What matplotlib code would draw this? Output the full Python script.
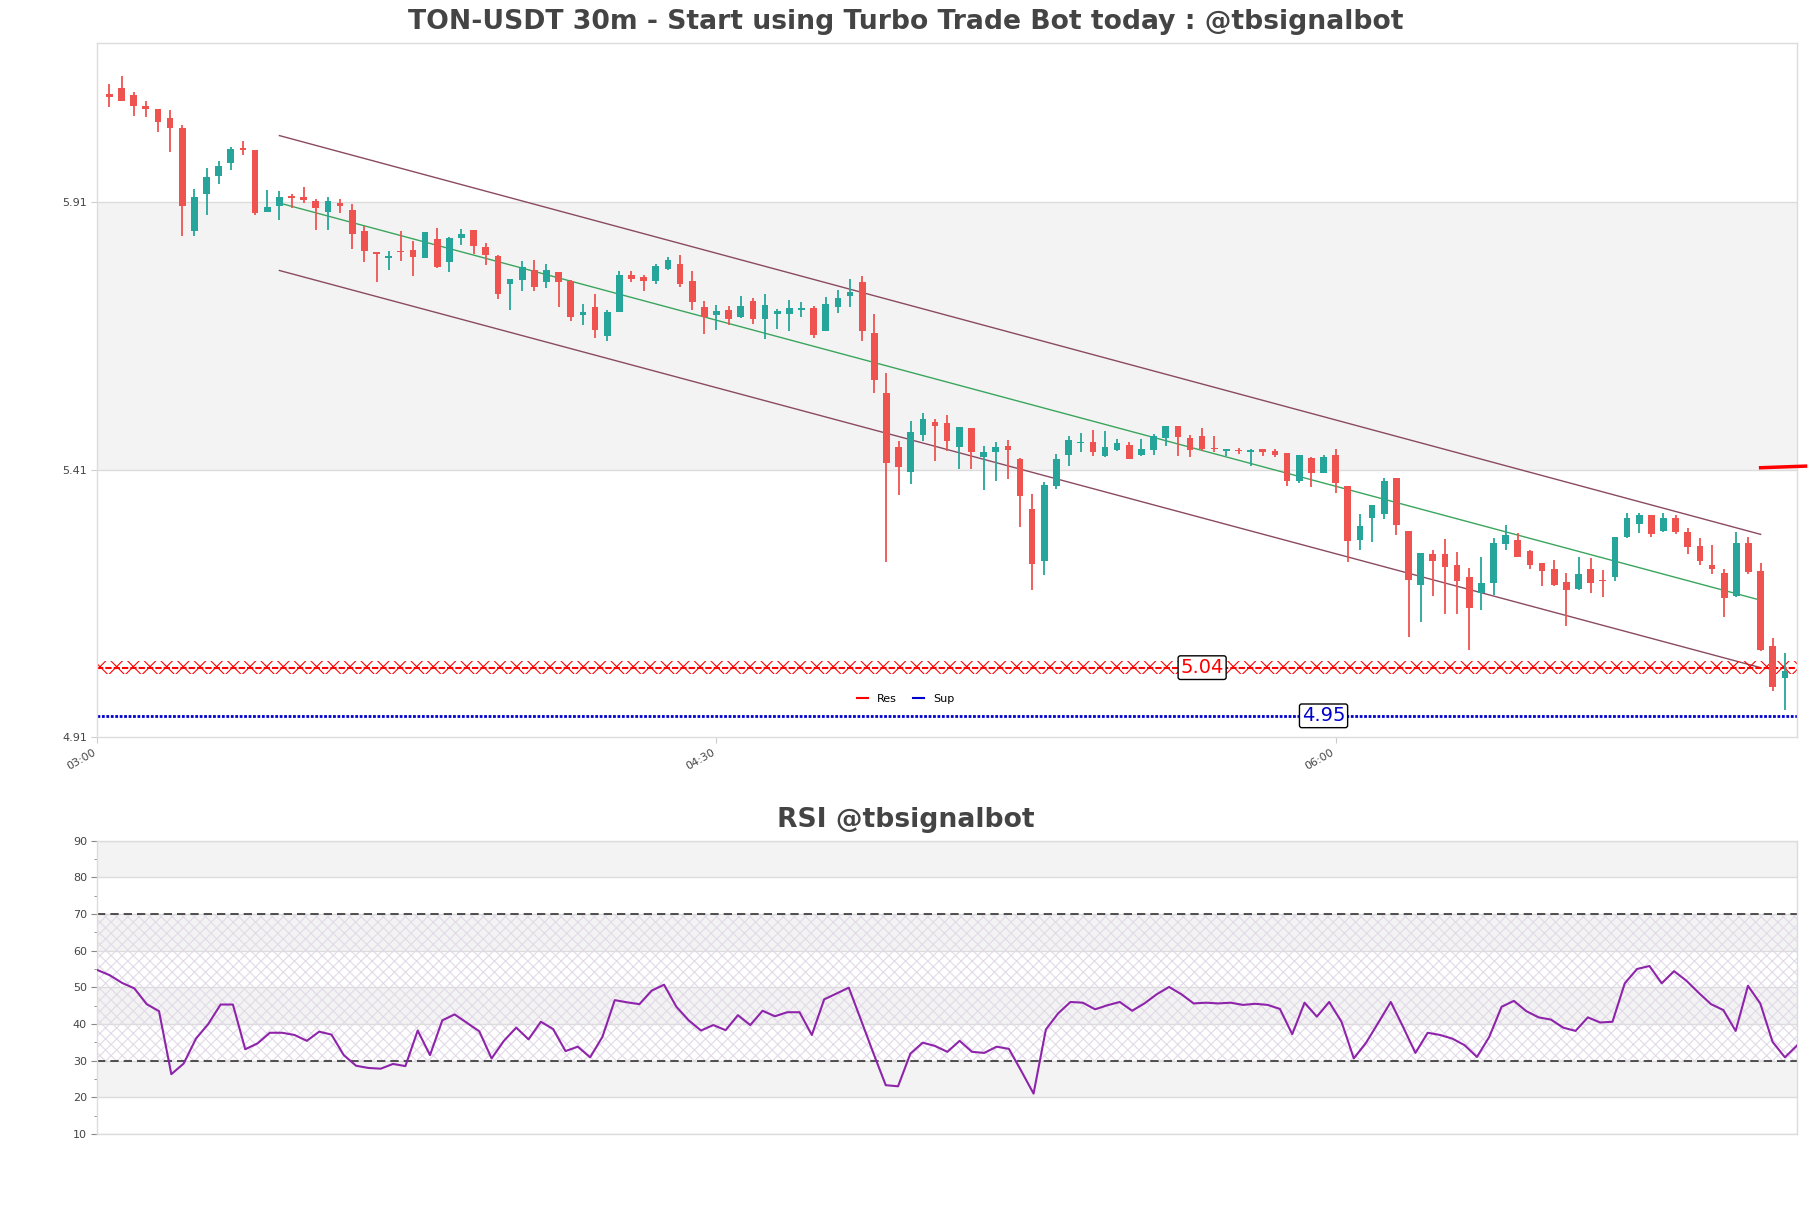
import matplotlib
matplotlib.use("Agg")
import matplotlib.pyplot as plt
from matplotlib.lines import Line2D
import numpy as np

# ---------------- data ----------------
opens = [6.112, 6.123, 6.110, 6.089, 6.084, 6.067, 6.048, 5.855, 5.924, 5.959,
         5.983, 6.011, 6.007, 5.892, 5.903, 5.921, 5.919, 5.912, 5.892, 5.908,
         5.895, 5.856, 5.816, 5.806, 5.819, 5.820, 5.806, 5.841, 5.797, 5.843,
         5.858, 5.826, 5.809, 5.756, 5.764, 5.783, 5.760, 5.779, 5.763, 5.698,
         5.714, 5.660, 5.705, 5.774, 5.770, 5.763, 5.785, 5.794, 5.762, 5.714,
         5.698, 5.708, 5.695, 5.725, 5.691, 5.701, 5.701, 5.709, 5.712, 5.668,
         5.714, 5.735, 5.760, 5.665, 5.553, 5.452, 5.406, 5.475, 5.499, 5.497,
         5.453, 5.488, 5.434, 5.443, 5.454, 5.430, 5.336, 5.239, 5.379, 5.437,
         5.459, 5.461, 5.436, 5.446, 5.456, 5.437, 5.446, 5.469, 5.491, 5.469,
         5.473, 5.451, 5.445, 5.446, 5.442, 5.449, 5.445, 5.441, 5.389, 5.431,
         5.404, 5.437, 5.379, 5.279, 5.320, 5.327, 5.394, 5.296, 5.194, 5.252,
         5.252, 5.232, 5.209, 5.179, 5.199, 5.271, 5.279, 5.258, 5.235, 5.224,
         5.200, 5.187, 5.224, 5.203, 5.209, 5.285, 5.309, 5.325, 5.296, 5.319,
         5.294, 5.267, 5.232, 5.216, 5.173, 5.273, 5.221, 5.080, 5.021]
highs = [6.130, 6.145, 6.115, 6.098, 6.084, 6.081, 6.053, 5.934, 5.973, 5.987,
         6.012, 6.024, 6.008, 5.932, 5.931, 5.925, 5.938, 5.915, 5.920, 5.915,
         5.906, 5.865, 5.817, 5.818, 5.855, 5.837, 5.853, 5.861, 5.844, 5.859,
         5.858, 5.833, 5.810, 5.767, 5.800, 5.802, 5.794, 5.780, 5.764, 5.719,
         5.738, 5.708, 5.781, 5.781, 5.774, 5.794, 5.807, 5.811, 5.781, 5.725,
         5.717, 5.716, 5.734, 5.730, 5.738, 5.710, 5.726, 5.723, 5.716, 5.732,
         5.745, 5.766, 5.771, 5.701, 5.590, 5.463, 5.501, 5.515, 5.504, 5.512,
         5.489, 5.488, 5.454, 5.462, 5.465, 5.431, 5.364, 5.386, 5.440, 5.472,
         5.479, 5.484, 5.482, 5.467, 5.462, 5.468, 5.476, 5.491, 5.491, 5.474,
         5.488, 5.473, 5.449, 5.450, 5.449, 5.449, 5.449, 5.441, 5.437, 5.434,
         5.437, 5.449, 5.379, 5.327, 5.344, 5.394, 5.394, 5.296, 5.255, 5.260,
         5.281, 5.256, 5.226, 5.246, 5.282, 5.307, 5.291, 5.260, 5.236, 5.241,
         5.216, 5.246, 5.244, 5.222, 5.285, 5.328, 5.328, 5.325, 5.328, 5.325,
         5.300, 5.282, 5.269, 5.224, 5.293, 5.284, 5.235, 5.095, 5.067]
lows = [6.088, 6.099, 6.071, 6.069, 6.041, 6.003, 5.847, 5.847, 5.886, 5.944,
        5.970, 5.998, 5.886, 5.891, 5.876, 5.898, 5.908, 5.858, 5.858, 5.890,
        5.823, 5.798, 5.761, 5.782, 5.800, 5.772, 5.806, 5.786, 5.780, 5.830,
        5.813, 5.793, 5.729, 5.708, 5.743, 5.744, 5.750, 5.713, 5.688, 5.680,
        5.655, 5.650, 5.705, 5.761, 5.743, 5.756, 5.782, 5.752, 5.708, 5.663,
        5.670, 5.681, 5.694, 5.682, 5.654, 5.673, 5.668, 5.695, 5.655, 5.668,
        5.703, 5.714, 5.651, 5.554, 5.238, 5.363, 5.384, 5.464, 5.426, 5.445,
        5.411, 5.411, 5.372, 5.389, 5.392, 5.303, 5.185, 5.213, 5.373, 5.416,
        5.443, 5.436, 5.434, 5.445, 5.430, 5.436, 5.437, 5.455, 5.435, 5.434,
        5.444, 5.443, 5.435, 5.440, 5.416, 5.435, 5.434, 5.379, 5.385, 5.378,
        5.404, 5.367, 5.238, 5.259, 5.275, 5.317, 5.288, 5.098, 5.126, 5.174,
        5.140, 5.140, 5.073, 5.148, 5.176, 5.259, 5.247, 5.224, 5.193, 5.193,
        5.118, 5.185, 5.180, 5.172, 5.202, 5.283, 5.292, 5.284, 5.294, 5.290,
        5.253, 5.231, 5.215, 5.135, 5.172, 5.215, 5.072, 4.997, 4.960]
closes = [6.107, 6.099, 6.090, 6.083, 6.060, 6.049, 5.903, 5.919, 5.957, 5.977,
          6.009, 6.007, 5.890, 5.901, 5.919, 5.918, 5.914, 5.898, 5.912, 5.903,
          5.851, 5.819, 5.812, 5.809, 5.816, 5.808, 5.853, 5.789, 5.843, 5.850,
          5.828, 5.811, 5.738, 5.766, 5.788, 5.752, 5.783, 5.760, 5.695, 5.705,
          5.671, 5.705, 5.774, 5.766, 5.763, 5.790, 5.802, 5.757, 5.724, 5.695,
          5.706, 5.692, 5.716, 5.691, 5.717, 5.707, 5.712, 5.712, 5.662, 5.719,
          5.730, 5.741, 5.668, 5.578, 5.423, 5.415, 5.480, 5.504, 5.492, 5.463,
          5.489, 5.443, 5.443, 5.452, 5.446, 5.360, 5.233, 5.382, 5.430, 5.466,
          5.462, 5.442, 5.453, 5.460, 5.430, 5.448, 5.473, 5.491, 5.471, 5.446,
          5.448, 5.448, 5.449, 5.445, 5.447, 5.443, 5.437, 5.389, 5.437, 5.404,
          5.434, 5.385, 5.277, 5.305, 5.344, 5.389, 5.307, 5.204, 5.255, 5.240,
          5.228, 5.202, 5.152, 5.198, 5.273, 5.288, 5.247, 5.231, 5.221, 5.195,
          5.186, 5.215, 5.199, 5.201, 5.284, 5.319, 5.325, 5.290, 5.319, 5.294,
          5.266, 5.240, 5.224, 5.171, 5.273, 5.219, 5.073, 5.003, 5.034]

rsi = [54.7, 53.3, 51.2, 49.7, 45.4, 43.5, 26.3, 29.2, 36.0, 40.0,
       45.3, 45.3, 33.1, 34.7, 37.6, 37.6, 37.0, 35.4, 37.9, 37.1,
       31.5, 28.6, 28.0, 27.8, 29.1, 28.5, 38.2, 31.5, 41.0, 42.6,
       40.3, 38.0, 30.6, 35.4, 39.0, 35.8, 40.6, 38.6, 32.6, 33.8,
       30.9, 36.5, 46.5, 45.9, 45.4, 49.1, 50.7, 44.7, 41.0, 38.2,
       39.7, 38.3, 42.4, 39.7, 43.6, 42.1, 43.2, 43.2, 37.0, 46.7,
       48.3, 49.9, 41.0, 32.0, 23.3, 23.0, 31.9, 34.9, 34.0, 32.4,
       35.4, 32.4, 32.1, 33.8, 33.2, 27.2, 21.0, 38.5, 42.9, 46.0,
       45.8, 44.0, 45.1, 46.0, 43.6, 45.6, 48.1, 50.1, 48.1, 45.6,
       45.8, 45.6, 45.8, 45.2, 45.5, 45.2, 44.1, 37.2, 45.8, 42.0,
       46.0, 40.6, 30.6, 34.9, 40.4, 46.0, 39.2, 32.1, 37.6, 37.0,
       36.0, 34.2, 31.0, 36.5, 44.7, 46.3, 43.5, 41.8, 41.2, 39.0,
       38.1, 41.8, 40.4, 40.6, 51.1, 55.0, 55.8, 51.1, 54.4, 51.8,
       48.5, 45.4, 43.8, 38.1, 50.4, 45.6, 35.1, 30.9, 34.2]

res_level = 5.04
sup_level = 4.95
channel_x = [14, 136]
channel_upper = [6.034, 5.289]
channel_mid = [5.908, 5.166]
channel_lower = [5.782, 5.040]
marker_x = [136, 139.7]
marker_y = [5.4135, 5.4165]

xtick_pos = [-1, 50, 101]
xtick_labels = ["03:00", "04:30", "06:00"]
ytick_main = [4.91, 5.41, 5.91]
ytick_rsi = [10, 20, 30, 40, 50, 60, 70, 80, 90]

title_main = "TON-USDT 30m - Start using Turbo Trade Bot today : @tbsignalbot"
title_rsi = "RSI @tbsignalbot"

# ---------------- figure ----------------
UP = "#26a69a"
DOWN = "#ef5350"
GRID = "#dcdcdc"
BAND = "#f3f3f3"
TXT = "#444444"

plt.rcParams["hatch.linewidth"] = 0.8

fig = plt.figure(figsize=(18.11, 12.08), dpi=100)
ax = fig.add_axes([0.0537, 0.3897, 0.9386, 0.5745])
ax2 = fig.add_axes([0.0538, 0.0613, 0.9386, 0.2428])

o = np.array(opens); h = np.array(highs); l = np.array(lows); c = np.array(closes)
x = np.arange(len(o))
cols = np.where(c >= o, UP, DOWN)

ax.set_xlim(-1, 139)
ax.set_ylim(4.91, 6.2065)

# background bands
ax.axhspan(5.41, 5.91, color=BAND, zorder=0, lw=0)
for yv in ytick_main[1:]:
    ax.axhline(yv, color=GRID, lw=1, zorder=0.5)

ax.vlines(x, l, h, colors=cols, lw=1.3, zorder=3)
body_bottom = np.minimum(o, c)
body_h = np.maximum(np.abs(c - o), 0.0015)
ax.bar(x, body_h, bottom=body_bottom, width=0.55, color=cols, lw=0, zorder=4)

# channel
ax.plot(channel_x, channel_upper, color="#8a4a62", lw=1.0, zorder=2)
ax.plot(channel_x, channel_lower, color="#8a4a62", lw=1.0, zorder=2)
ax.plot(channel_x, channel_mid, color="#3aa55c", lw=1.0, zorder=2)

# resistance / support
ax.axhspan(res_level - 0.0125, res_level + 0.0125, facecolor="none",
           edgecolor="red", hatch="xx", lw=0, zorder=2)
ax.plot([-1, 139], [res_level, res_level], color="red", lw=1.5,
        ls=(0, (3, 1)), zorder=2.5)
ax.plot([-1, 139], [sup_level, sup_level], color="#0000cc", lw=2.0,
        ls=(0, (1, 0.6)), zorder=2.5)
ax.text(90, res_level, "%.2f" % res_level, color="red", fontsize=14,
        ha="center", va="center", zorder=6,
        bbox=dict(boxstyle="round,pad=0.12", fc="white", ec="black", lw=1))
ax.text(100, sup_level, "%.2f" % sup_level, color="#0000cc", fontsize=14,
        ha="center", va="center", zorder=6,
        bbox=dict(boxstyle="round,pad=0.12", fc="white", ec="black", lw=1))

ax.plot(marker_x, marker_y, color="red", lw=2.5, clip_on=False, zorder=6)

ax.set_yticks(ytick_main)
ax.set_yticklabels(["%.2f" % v for v in ytick_main])
ax.set_xticks(xtick_pos)
ax.set_xticklabels(xtick_labels, rotation=30, ha="right")
ax.tick_params(axis="both", labelsize=8, labelcolor=TXT, color="#cccccc", length=4)
for sp in ax.spines.values():
    sp.set_color(GRID)
    sp.set_linewidth(1)

handles = [Line2D([], [], color="red", lw=1.5), Line2D([], [], color="#0000cc", lw=1.5)]
ax.legend(handles, ["Res", "Sup"], loc="center",
          bbox_to_anchor=(0.5, 1 - 698.5 / 1208),
          bbox_transform=fig.transFigure, ncol=2, frameon=False,
          fontsize=8, handlelength=1.0, columnspacing=1.5, handletextpad=0.8)

fig.text(0.5, 1 - 22 / 1208, title_main, ha="center", va="center",
         fontsize=19.2, fontweight="bold", color=TXT)
fig.text(0.5, 1 - 820 / 1208, title_rsi, ha="center", va="center",
         fontsize=19.2, fontweight="bold", color=TXT)

# ---------------- RSI ----------------
xr = np.arange(len(rsi))
ax2.set_xlim(0, len(rsi) - 1)
ax2.set_ylim(10, 90)
for lo in (20, 40, 60, 80):
    ax2.axhspan(lo, lo + 10, color=BAND, lw=0, zorder=0)
for yv in ytick_rsi:
    ax2.axhline(yv, color=GRID, lw=1, zorder=0.5)
ax2.fill_between(xr, 30, 70, facecolor="none", edgecolor="#e2dae8",
                 hatch="xxx", lw=0, zorder=1)
ax2.axhline(70, color="#333333", lw=1.2, ls=(0, (5, 3)), zorder=2)
ax2.axhline(30, color="#333333", lw=1.2, ls=(0, (5, 3)), zorder=2)
ax2.plot(xr, rsi, color="#8e24aa", lw=1.5, zorder=3)
ax2.set_yticks(ytick_rsi)
ax2.set_yticks(np.arange(15, 90, 10), minor=True)
ax2.set_xticks([])
ax2.tick_params(axis="y", which="both", labelsize=8, labelcolor=TXT, color="#888888")
ax2.tick_params(axis="y", which="major", length=4)
ax2.tick_params(axis="y", which="minor", length=2)
for sp in ax2.spines.values():
    sp.set_color(GRID)
    sp.set_linewidth(1)

fig.savefig("out.png", dpi=100)
